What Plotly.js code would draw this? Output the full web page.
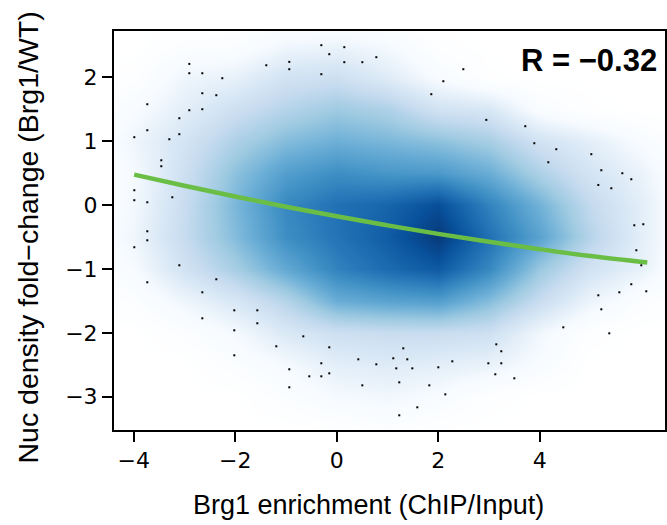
<!DOCTYPE html>
<html>
<head>
<meta charset="utf-8">
<script src="https://cdn.plot.ly/plotly-3.0.1.min.js"></script>
<style>html,body{margin:0;padding:0;background:#fff;}#chart{width:667px;height:525px;}</style>
</head>
<body>
<div id="chart"></div>
<script>
// Density grid (smoothScatter-like, transformed density 0..1)
const gridX = [-5, -4, -3, -2, -1, 0, 1, 2, 3, 4, 5, 6, 7];
const gridY = [-4, -3.5, -3, -2.5, -2, -1.5, -1, -0.5, 0, 0.5, 1, 1.5, 2, 2.5, 3];
const densityZ = [
  [0, 0, 0, 0, 0, 0, 0, 0, 0, 0, 0, 0, 0],                                      // -4
  [0, 0, 0, 0, 0, 0.02, 0.05, 0.02, 0, 0, 0, 0, 0],                             // -3.5
  [0, 0, 0, 0, 0.06, 0.12, 0.14, 0.1, 0.03, 0, 0, 0, 0],                        // -3
  [0, 0, 0, 0.06, 0.12, 0.2, 0.22, 0.2, 0.17, 0.1, 0, 0, 0],                    // -2.5
  [0, 0, 0.05, 0.12, 0.24, 0.3, 0.32, 0.32, 0.3, 0.14, 0.03, 0, 0],             // -2
  [0.01, 0.05, 0.15, 0.25, 0.38, 0.56, 0.6, 0.62, 0.5, 0.32, 0.16, 0.06, 0],    // -1.5
  [0.03, 0.11, 0.28, 0.42, 0.58, 0.72, 0.8, 0.86, 0.7, 0.45, 0.28, 0.18, 0.02], // -1
  [0.04, 0.15, 0.33, 0.5, 0.68, 0.77, 0.85, 0.97, 0.78, 0.6, 0.38, 0.2, 0.03],  // -0.5
  [0.04, 0.13, 0.32, 0.52, 0.7, 0.78, 0.82, 0.9, 0.72, 0.54, 0.34, 0.2, 0.03],  // 0
  [0.03, 0.12, 0.3, 0.48, 0.62, 0.68, 0.65, 0.64, 0.56, 0.4, 0.27, 0.17, 0.02], // 0.5
  [0.03, 0.15, 0.27, 0.4, 0.5, 0.55, 0.52, 0.48, 0.42, 0.28, 0.2, 0.1, 0],      // 1
  [0.02, 0.1, 0.2, 0.3, 0.38, 0.44, 0.4, 0.28, 0.25, 0.08, 0.02, 0, 0],         // 1.5
  [0, 0.03, 0.15, 0.18, 0.28, 0.3, 0.22, 0.1, 0.02, 0, 0, 0, 0],                // 2
  [0, 0, 0.05, 0.06, 0.14, 0.16, 0.12, 0.03, 0, 0, 0, 0, 0],                    // 2.5
  [0, 0, 0, 0, 0, 0, 0, 0, 0, 0, 0, 0, 0]                                       // 3
];

// Sparse outlier points (lowest-density points drawn as dots)
const dotX = [-2.904, -0.934, -1.387, -0.934, -2.904, -2.648, -2.254, -2.648, -2.372, -3.732,
  -2.904, -2.648, -3.101, -3.732, -3.988, -3.298, -3.101, -3.456, -3.456, -3.988,
  -3.988, -3.732, -3.239, -3.732, -3.732, -3.988, -3.101, -3.732, -2.372, -2.648,
  -2.018, -1.564, -1.564, -2.648, -2.018, -1.190, -2.018, -0.934, -0.934,
  -0.303, 0.150, -0.146, 0.150, 0.505, 0.781, -0.303, 2.495, 2.101, 1.864,
  2.948, 3.716, 3.894, 4.327, 4.170, 5.017, 5.214, 5.628, 5.805, 5.155, 5.411, 5.864, 6.041,
  5.904, 6.002, 5.805, 5.569, 6.100, 5.155, 5.214, 4.465, 5.371, 3.145, 3.243, 2.988, 3.243, 3.125, 3.500,
  -0.658, -0.146, -0.303, -0.540, -0.303, -0.146, 0.426, 0.781, 1.115, 1.391, 1.174, 1.490, 1.312,
  2.002, 2.278, 0.505, 1.233, 1.825, 2.140, 1.588, 1.233];
const dotY = [2.208, 2.240, 2.187, 2.125, 2.062, 2.062, 1.984, 1.749, 1.718, 1.577,
  1.483, 1.499, 1.358, 1.170, 1.061, 1.029, 1.108, 0.700, 0.607, 0.231,
  0.075, 0.043, 0.121, -0.411, -0.552, -0.661, -0.943, -1.209, -1.162, -1.366,
  -1.648, -1.648, -1.851, -1.773, -1.961, -2.211, -2.352, -2.571, -2.853,
  2.501, 2.470, 2.360, 2.235, 2.235, 2.313, 2.047, 2.125, 1.937, 1.734,
  1.332, 1.233, 0.967, 0.873, 0.669, 0.795, 0.544, 0.497, 0.403, 0.314, 0.262, -0.317, -0.301,
  -0.708, -0.943, -1.240, -1.366, -1.350, -1.413, -1.632, -1.914, -2.008, -2.180, -2.289, -2.477, -2.477, -2.649, -2.712,
  -2.055, -2.227, -2.477, -2.681, -2.681, -2.634, -2.415, -2.493, -2.399, -2.415, -2.556, -2.556, -2.243,
  -2.540, -2.446, -2.822, -2.775, -2.822, -2.963, -3.166, -3.291];

// Loess fit curve
const fitX = [-3.99, -3, -2, -1, 0, 1, 2, 3, 4, 5, 6.12];
const fitY = [0.475, 0.301, 0.133, -0.027, -0.177, -0.319, -0.452, -0.576, -0.692, -0.799, -0.9];

const xTicks = [-4, -2, 0, 2, 4];
const yTicks = [-3, -2, -1, 0, 1, 2];
const xTitle = 'Brg1 enrichment (ChIP/Input)';
const yTitle = 'Nuc density fold\u2212change (Brg1/WT)';
const corrLabel = 'R = \u22120.32';

const blues = [[0, '#FFFFFF'], [1/9, '#F7FBFF'], [2/9, '#DEEBF7'], [3/9, '#C6DBEF'], [4/9, '#9ECAE1'],
  [5/9, '#6BAED6'], [6/9, '#4292C6'], [7/9, '#2171B5'], [8/9, '#08519C'], [1, '#08306B']];

const traces = [
  {type: 'heatmap', x: gridX, y: gridY, z: densityZ, colorscale: blues, zmin: 0, zmax: 1,
   zsmooth: 'best', showscale: false, hoverinfo: 'skip'},
  {type: 'scatter', mode: 'markers', x: dotX, y: dotY,
   marker: {symbol: 'square', size: 2, color: '#000000', line: {width: 0}}, hoverinfo: 'skip'},
  {type: 'scatter', mode: 'lines', x: fitX, y: fitY,
   line: {color: '#6BBE45', width: 4.5, shape: 'spline'}, hoverinfo: 'skip'}
];

const axisCommon = {
  showgrid: false, zeroline: false, showline: true, linewidth: 2, linecolor: '#000',
  mirror: true, ticks: 'outside', ticklen: 10, tickwidth: 2, tickcolor: '#000',
  tickfont: {family: 'DejaVu Sans', size: 22, color: '#000'}
};
const fmt = v => v < 0 ? '\u2212' + Math.abs(v) : String(v);

const layout = {
  width: 667, height: 525,
  margin: {l: 114, r: 2, t: 31, b: 95},
  paper_bgcolor: '#fff', plot_bgcolor: '#fff',
  showlegend: false,
  xaxis: Object.assign({}, axisCommon, {
    range: [-4.388, 6.469], tickvals: xTicks, ticktext: xTicks.map(fmt)
  }),
  yaxis: Object.assign({}, axisCommon, {
    range: [-3.521, 2.723], tickvals: yTicks, ticktext: yTicks.map(fmt)
  }),
  annotations: [
    {text: '<b>' + corrLabel + '</b>', xref: 'paper', yref: 'paper', x: 0.989, y: 0.925,
     xanchor: 'right', yanchor: 'middle', showarrow: false,
     font: {family: 'Liberation Sans, Arial', size: 31, color: '#000'}},
    {text: xTitle, xref: 'paper', yref: 'paper', x: 0.461, y: -0.188,
     xanchor: 'center', yanchor: 'middle', showarrow: false,
     font: {family: 'Liberation Sans, Arial', size: 27, color: '#000'}},
    {text: yTitle, xref: 'paper', yref: 'paper', x: -0.156, y: 0.4825, textangle: -90,
     xanchor: 'center', yanchor: 'middle', showarrow: false,
     font: {family: 'Liberation Sans, Arial', size: 28.5, color: '#000'}}
  ]
};

Plotly.newPlot('chart', traces, layout, {staticPlot: true, displayModeBar: false});
</script>
</body>
</html>
